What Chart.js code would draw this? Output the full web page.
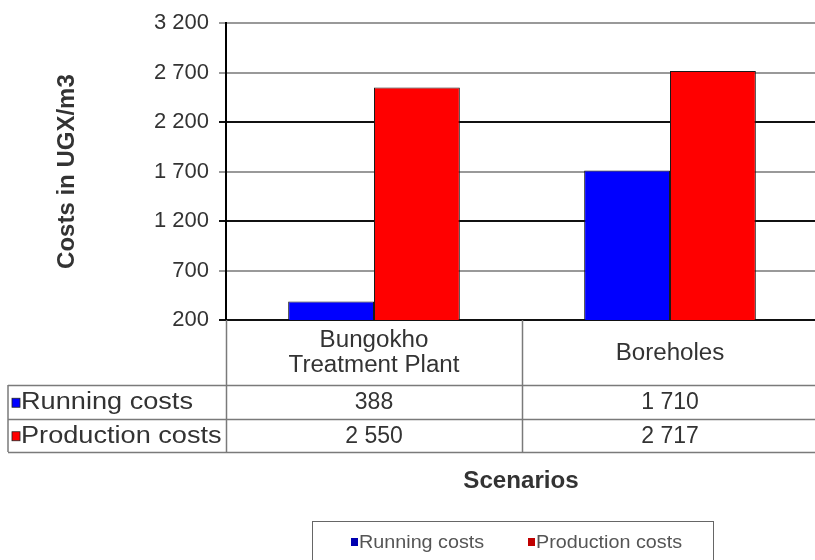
<!DOCTYPE html>
<html>
<head>
<meta charset="utf-8">
<script src="https://cdn.jsdelivr.net/npm/chart.js@4.4.0/dist/chart.umd.min.js"></script>
<style>
  html, body { margin: 0; padding: 0; background: #fff; overflow: hidden; }
  #wrap { width: 815px; height: 560px; overflow: hidden; }
</style>
</head>
<body>
<div id="wrap"><canvas id="myChart" width="822" height="560"></canvas></div>
<script>
const categories = [['Bungokho', 'Treatment Plant'], ['Boreholes']];
const runningCosts = [388, 1710];
const productionCosts = [2550, 2717];
const seriesNames = ['Running costs', 'Production costs'];
const seriesColors = ['#0000ff', '#ff0000'];
const yTicks = [200, 700, 1200, 1700, 2200, 2700, 3200];

const fmt = v => String(v).replace(/\B(?=(\d{3})+(?!\d))/g, ' ');
const FONT = '"Liberation Sans", Arial, sans-serif';

// text slightly stretched sideways like the source image
function wideText(c, txt, x, y, align, sx) {
  c.save();
  c.translate(x, y);
  c.scale(sx, 1);
  c.textAlign = align;
  c.fillText(txt, 0, 0);
  c.restore();
}

// table under the plot, category labels, x title and legend box
const tablePlugin = {
  id: 'dataTable',
  afterDraw(chart) {
    const c = chart.ctx;
    const area = chart.chartArea;
    const x = chart.scales.x;
    const n = categories.length;
    const step = (area.right - area.left) / n;
    const headBottom = area.bottom + 65;
    const rowH = 33.5;
    const tableBottom = headBottom + rowH * 2;
    const tableLeft = 8;
    const right = chart.width;

    c.save();
    c.strokeStyle = '#7a7a7a';
    c.lineWidth = 1.5;
    for (let i = 0; i <= n; i++) {
      const px = Math.round(area.left + step * i) + 0.5;
      c.beginPath();
      c.moveTo(px, area.bottom);
      c.lineTo(px, tableBottom);
      c.stroke();
    }
    c.beginPath();
    c.moveTo(tableLeft, headBottom);
    c.lineTo(tableLeft, tableBottom);
    c.stroke();
    for (let r = 0; r <= 2; r++) {
      const py = Math.round(headBottom + rowH * r) + 0.5;
      c.beginPath();
      c.moveTo(tableLeft, py);
      c.lineTo(right, py);
      c.stroke();
    }

    c.fillStyle = '#333';
    c.font = '23px ' + FONT;
    c.textBaseline = 'middle';
    categories.forEach((lab, i) => {
      const cx = x.getPixelForValue(i);
      const mid = (area.bottom + headBottom) / 2 + 1;
      lab.forEach((line, j) => {
        wideText(c, line, cx, mid + (j - (lab.length - 1) / 2) * 25, 'center', 1.05);
      });
    });

    const rows = [runningCosts, productionCosts];
    rows.forEach((vals, r) => {
      const cy = headBottom + rowH * r + rowH / 2 + 1;
      c.fillStyle = seriesColors[r];
      c.fillRect(tableLeft + 4, cy - 4.5, 8, 9);
      c.strokeStyle = '#222';
      c.lineWidth = 0.8;
      c.strokeRect(tableLeft + 4, cy - 4.5, 8, 9);
      c.fillStyle = '#333';
      wideText(c, seriesNames[r], tableLeft + 13, cy, 'left', 1.18);
      vals.forEach((v, i) => wideText(c, fmt(v), x.getPixelForValue(i), cy, 'center', 1.0));
    });

    c.font = 'bold 23px ' + FONT;
    c.fillStyle = '#333';
    wideText(c, 'Scenarios', (area.left + area.right) / 2 - 1, 482, 'center', 1.05);

    // legend box
    c.strokeStyle = '#666';
    c.lineWidth = 1;
    c.strokeRect(312.5, 521.5, 401, 60);
    c.font = '19px ' + FONT;
    const items = [[351, seriesNames[0]], [528, seriesNames[1]]];
    items.forEach(([lx, name], i) => {
      c.fillStyle = i === 0 ? '#0000b0' : '#c00000';
      c.fillRect(lx, 538, 7, 8);
      c.fillStyle = '#555';
      wideText(c, name, lx + 8, 543, 'left', 1.04);
    });
    c.restore();
  }
};

const ctx = document.getElementById('myChart').getContext('2d');

const chart = new Chart(ctx, {
  type: 'bar',
  data: {
    labels: categories,
    datasets: [{
      label: seriesNames[0],
      data: runningCosts,
      backgroundColor: seriesColors[0],
      borderColor: '#1a1a1a',
      borderWidth: 1
    }, {
      label: seriesNames[1],
      data: productionCosts,
      backgroundColor: seriesColors[1],
      borderColor: '#1a1a1a',
      borderWidth: 1
    }]
  },
  options: {
    responsive: false,
    animation: false,
    layout: { padding: { top: 22, bottom: 232, left: 0, right: 4 } },
    plugins: {
      legend: { display: false },
      tooltip: { enabled: false }
    },
    datasets: {
      bar: { categoryPercentage: 0.58, barPercentage: 1 }
    },
    scales: {
      x: {
        grid: { display: false },
        border: { display: false },
        ticks: { display: false }
      },
      y: {
        min: 200,
        max: 3200,
        afterBuildTicks: s => { s.ticks = yTicks.map(v => ({ value: v })); },
        afterFit: s => { s.width = 226; },
        border: { color: '#000', width: 2 },
        grid: {
          color: c => [200, 1200, 2200].includes(c.tick && c.tick.value) ? '#111' : '#999',
          lineWidth: 2,
          tickLength: 7
        },
        ticks: {
          color: '#333',
          font: { family: FONT, size: 22 },
          padding: 10,
          callback: v => fmt(v)
        },
        title: {
          display: true,
          text: 'Costs in UGX/m3',
          color: '#333',
          font: { family: FONT, size: 24, weight: 'bold' },
          padding: { top: 53, bottom: 0 }
        }
      }
    }
  },
  plugins: [tablePlugin]
});
</script>
</body>
</html>
